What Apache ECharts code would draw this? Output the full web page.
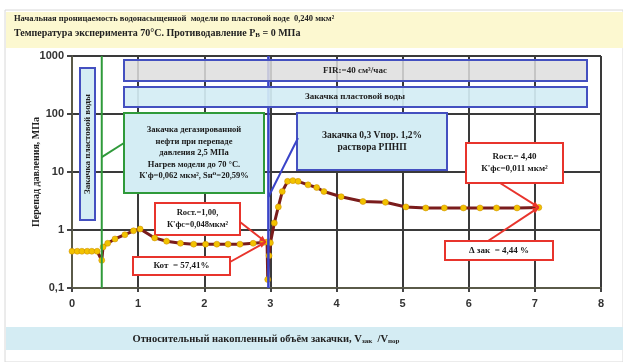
<!DOCTYPE html>
<html>
<head>
<meta charset="utf-8">
<script src="https://cdn.jsdelivr.net/npm/echarts@6/dist/echarts.min.js"></script>
<style>
  html, body { margin: 0; padding: 0; background: #ffffff; }
  #chart { width: 623px; height: 362px; }
</style>
</head>
<body>
<div id="chart"></div>
<script>
// Pressure drop vs. relative cumulative injected volume
var volume = [0, 0.08, 0.15, 0.23, 0.30, 0.38, 0.45, 0.47, 0.54, 0.65, 0.80, 0.93, 1.03,
  1.25, 1.43, 1.64, 1.84, 2.02, 2.19, 2.36, 2.54, 2.74, 2.89, 2.95, 2.96, 2.98, 3.00,
  3.06, 3.12, 3.18, 3.26, 3.34, 3.42, 3.57, 3.70, 3.81, 4.07, 4.40, 4.74, 5.05, 5.35,
  5.63, 5.92, 6.17, 6.42, 6.73, 7.06];
var pressure = [0.43, 0.43, 0.43, 0.43, 0.43, 0.43, 0.30, 0.51, 0.59, 0.70, 0.83, 0.97, 1.04,
  0.73, 0.64, 0.59, 0.57, 0.57, 0.57, 0.57, 0.57, 0.59, 0.61, 0.62, 0.14, 0.36, 0.60,
  1.32, 2.5, 4.6, 6.9, 7.1, 6.9, 6.0, 5.4, 4.6, 3.75, 3.1, 3.0, 2.5, 2.4,
  2.4, 2.4, 2.4, 2.4, 2.4, 2.45];
var yTickLabels = { 0.1: '0,1', 1: '1', 10: '10', 100: '100', 1000: '1000' };
var oilStart = 0.45;       // start of dead-oil injection
var polymerStart = 2.97;   // start of polymer solution injection

var headerLine1 = 'Начальная проницаемость водонасыщенной  модели по пластовой воде  0,240 мкм²';
var headerLine2 = 'Температура эксперимента 70°С. Противодавление P';
var xTitle = 'Относительный накопленный объём закачки, V';
var yTitle = 'Перепад давления, МПа';

var serif = '"Liberation Serif", "DejaVu Serif", serif';
var chart = echarts.init(document.getElementById('chart'));
var pts = volume.map(function (v, i) { return [v, pressure[i]]; });

function stageLine(x, color, width) {
  return {
    type: 'line', z: 7, silent: true, symbol: 'none',
    data: [[x, 0.1], [x, 1000]],
    lineStyle: { color: color, width: width }
  };
}

chart.setOption({
  animation: false,
  grid: { left: 72, right: 22, top: 56, bottom: 74, show: false },
  xAxis: {
    type: 'value', min: 0, max: 8, interval: 1,
    axisLine: { show: true, lineStyle: { color: '#5a5a48', width: 2 } },
    axisTick: { show: true, length: 4, lineStyle: { color: '#444', width: 2 } },
    axisLabel: { color: '#333', fontSize: 11, fontWeight: 'bold', fontFamily: 'Liberation Sans', margin: 10 },
    splitLine: { show: true, lineStyle: { color: '#3a3a3a', width: 2 } }
  },
  yAxis: {
    type: 'log', logBase: 10, min: 0.1, max: 1000,
    axisLine: { show: true, lineStyle: { color: '#5a5a48', width: 2 } },
    axisTick: { show: true, length: 5, lineStyle: { color: '#444', width: 2 } },
    minorTick: { show: false },
    axisLabel: {
      color: '#333', fontSize: 11, fontWeight: 'bold', fontFamily: 'Liberation Sans', margin: 8,
      formatter: function (v) { var k = Math.round(v * 10) / 10; return yTickLabels[k] || String(v); }
    },
    splitLine: { show: true, lineStyle: { color: '#3a3a3a', width: 2 } }
  },
  series: [{
    type: 'line',
    data: pts,
    z: 5,
    symbol: 'circle',
    symbolSize: 6,
    lineStyle: { color: '#7a1c1c', width: 3 },
    itemStyle: { color: '#f2c200', borderColor: '#c98a00', borderWidth: 0.5 }
  },
  stageLine(oilStart, '#2f9a3a', 2),
  stageLine(polymerStart, '#3a44c8', 2.5)]
});

function px(x, y) { return chart.convertToPixel({ gridIndex: 0 }, [x, y]); }

function box(x, y, w, h, fill, stroke, lines, fontSize, z) {
  return {
    type: 'group', z: z || 10,
    children: [
      { type: 'rect', shape: { x: x, y: y, width: w, height: h },
        style: { fill: fill, stroke: stroke, lineWidth: 2 } },
      { type: 'text', style: {
          x: x + w / 2, y: y + h / 2, text: lines, align: 'center', verticalAlign: 'middle',
          font: 'bold ' + (fontSize || 9) + 'px ' + serif, fill: '#1a1a1a', lineHeight: (fontSize || 9) + 3 } }
    ]
  };
}
function callout(p1, p2, color, arrow) {
  var items = [{ type: 'line', z: 9, shape: { x1: p1[0], y1: p1[1], x2: p2[0], y2: p2[1] },
    style: { stroke: color, lineWidth: 2 } }];
  if (arrow) {
    var a = Math.atan2(p2[1] - p1[1], p2[0] - p1[0]), L = 7, s = 0.45;
    items.push({ type: 'polygon', z: 9, shape: { points: [
      [p2[0], p2[1]],
      [p2[0] - L * Math.cos(a - s), p2[1] - L * Math.sin(a - s)],
      [p2[0] - L * Math.cos(a + s), p2[1] - L * Math.sin(a + s)]
    ] }, style: { fill: color } });
  }
  return items;
}

var red = '#e8342c', white = '#ffffff', pale = '#d4edf4';
var pA = px(2.93, 0.62), pEnd = px(volume[volume.length - 1], pressure[pressure.length - 1]);
var pGreen = px(oilStart, 18), pBlue = px(polymerStart, 3.7);

var g = [
  // page frame and header / footer bands
  { type: 'rect', z: 0, shape: { x: 5, y: 10, width: 618, height: 352 }, style: { fill: 'none', stroke: '#d8d8d8', lineWidth: 1 } },
  { type: 'rect', z: 1, shape: { x: 6, y: 12, width: 617, height: 36 }, style: { fill: '#fcf8d0' } },
  { type: 'text', z: 2, style: { x: 14, y: 19, text: headerLine1, verticalAlign: 'middle', font: 'bold 8.5px ' + serif, fill: '#222' } },
  { type: 'text', z: 2, style: { x: 14, y: 33, text: '{a|' + headerLine2 + '}{s|B}{a| = 0 МПа}', verticalAlign: 'middle',
      rich: { a: { font: 'bold 10px ' + serif, fill: '#222' }, s: { font: 'bold 7px ' + serif, fill: '#222', padding: [5, 0, 0, 0] } } } },
  { type: 'rect', z: 1, shape: { x: 6, y: 327, width: 617, height: 23 }, style: { fill: '#d4ecf3' } },
  { type: 'text', z: 2, style: { x: 266, y: 339, text: '{a|' + xTitle + '}{s|зак}{a|  /V}{s|пор}', align: 'center', verticalAlign: 'middle',
      rich: { a: { font: 'bold 10.5px ' + serif, fill: '#222' }, s: { font: 'bold 7px ' + serif, fill: '#222', padding: [5, 0, 0, 0] } } } },
  { type: 'text', z: 2, rotation: Math.PI / 2, x: 36, y: 172, style: { x: 0, y: 0, text: yTitle, align: 'center', verticalAlign: 'middle', font: 'bold 10px ' + serif, fill: '#222' } },

  // stage bands across the top of the plot
  { type: 'rect', z: 8, shape: { x: 124, y: 60, width: 463, height: 21 }, style: { fill: 'rgba(222,222,222,0.85)', stroke: '#4450c0', lineWidth: 2 } },
  { type: 'text', z: 9, style: { x: 355, y: 71, text: 'FIR:=40 см³/час', align: 'center', verticalAlign: 'middle', font: 'bold 9px ' + serif, fill: '#222' } },
  { type: 'rect', z: 8, shape: { x: 124, y: 87, width: 463, height: 20 }, style: { fill: 'rgba(212,237,244,0.92)', stroke: '#4450c0', lineWidth: 2 } },
  { type: 'text', z: 9, style: { x: 355, y: 97, text: 'Закачка пластовой воды', align: 'center', verticalAlign: 'middle', font: 'bold 9px ' + serif, fill: '#222' } },

  // vertical band: initial water injection
  { type: 'rect', z: 8, shape: { x: 80, y: 68, width: 15, height: 152 }, style: { fill: pale, stroke: '#4450c0', lineWidth: 2 } },
  { type: 'text', z: 9, rotation: Math.PI / 2, x: 88, y: 144, style: { x: 0, y: 0, text: 'Закачка пластовой воды', align: 'center', verticalAlign: 'middle', font: 'bold 9px ' + serif, fill: '#222' } },

  box(124, 113, 140, 80, pale, '#2f9a3a',
    'Закачка дегазированной\nнефти при перепаде\nдавления 2,5 МПа\nНагрев модели до 70 °С.\nК\'ф=0,062 мкм², Sн⁰=20,59%', 8.5),
  box(297, 113, 150, 57, pale, '#4450c0', 'Закачка 0,3 Vпор. 1,2%\nраствора РПНП', 9.5),
  box(155, 203, 85, 32, white, red, 'Rост.=1,00,\nК\'фс=0,048мкм²', 8.5),
  box(133, 257, 97, 18, white, red, 'Кот  = 57,41%', 9),
  box(466, 143, 97, 40, white, red, 'Rост.= 4,40\nК\'фс=0,011 мкм²', 9),
  box(445, 241, 108, 19, white, red, 'Δ зак  = 4,44 %', 9)
];
g = g.concat(
  callout([pGreen[0], pGreen[1]], [124, 143], '#2f9a3a', false),
  callout([pBlue[0], pBlue[1]], [298, 138], '#3a44c8', false),
  callout([240, 222], pA, red, true),
  callout([230, 262], pA, red, true),
  callout([500, 183], pEnd, red, true),
  callout([488, 241], pEnd, red, true)
);
chart.setOption({ graphic: g });
</script>
</body>
</html>
